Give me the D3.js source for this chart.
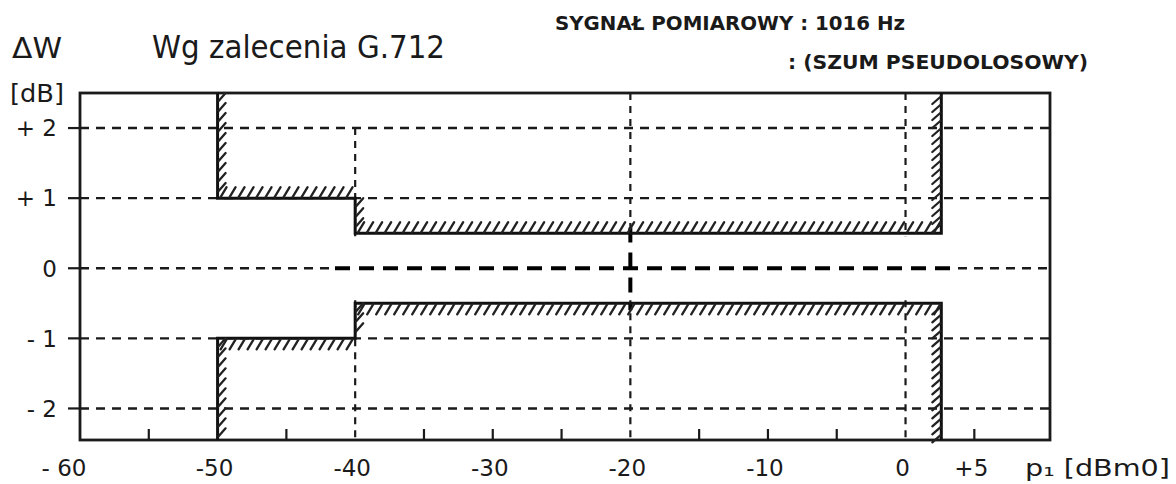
<!DOCTYPE html>
<html>
<head>
<meta charset="utf-8">
<script src="https://cdn.jsdelivr.net/npm/d3@7"></script>
<style>
  body { margin: 0; background: #fff; }
  svg { display: block; font-family: "DejaVu Sans", sans-serif; }
</style>
</head>
<body>
<svg id="viz" width="1176" height="484"></svg>
<script>
// tick values and labels
const xTicks = [-60, -50, -40, -30, -20, -10, 0, 5];
const xTickLabels = ['- 60', '-50', '-40', '-30', '-20', '-10', '0', '+5'];
const xMinorTicks = [-55, -45, -35, -30, -25, -15, -10, -5, 5];
const xGridLines = [-40, -20, 0];
const yTicks = [2, 1, 0, -1, -2];
const yTickLabels = ['+ 2', '+ 1', '0', '- 1', '- 2'];

// tolerance mask (G.712), [P1 dBm0, dW dB]
const upperMask = [[-50, 2.5], [-50, 1], [-40, 1], [-40, 0.5], [2.6, 0.5], [2.6, 2.5]];
const lowerMask = [[-50, -2.45], [-50, -1], [-40, -1], [-40, -0.5], [2.6, -0.5], [2.6, -2.45]];
// hatch side for each segment of the masks
const upperHatch = ['right', 'up', 'right', 'up', 'left'];
const lowerHatch = ['right', 'down', 'right', 'down', 'left'];

const ink = '#1a1a1a';
const svg = d3.select('#viz');

const x = d3.scaleLinear().domain([-60, 10.5]).range([80, 1050]);
const y = d3.scaleLinear().domain([-2.45, 2.5]).range([440, 93]);

const g = svg.append('g');

// band around zero that was pasted over in the original
const bandX0 = 335, bandX1 = 958;
const bandTop = y(0.5) + 3, bandBot = y(-0.5) - 3;

// horizontal dashed grid
yTicks.forEach(v => {
  const segs = v === 0 ? [[x.range()[0], bandX0], [bandX1, x.range()[1]]] : [[x.range()[0], x.range()[1]]];
  segs.forEach(s => {
    g.append('line').attr('x1', s[0]).attr('x2', s[1]).attr('y1', y(v)).attr('y2', y(v))
      .attr('stroke', ink).attr('stroke-width', 2.4).attr('stroke-dasharray', '9,7');
  });
});

// vertical dashed grid
xGridLines.forEach(v => {
  const top = v === -40 ? y(2) : y.range()[1];
  [[top, bandTop], [bandBot, y.range()[0]]].forEach(s => {
    g.append('line').attr('x1', x(v)).attr('x2', x(v)).attr('y1', s[0]).attr('y2', s[1])
      .attr('stroke', ink).attr('stroke-width', 2.2).attr('stroke-dasharray', '7,6');
  });
});

// bold overlay at zero and -20
g.append('line').attr('x1', bandX0).attr('x2', bandX1).attr('y1', y(0)).attr('y2', y(0))
  .attr('stroke', '#000').attr('stroke-width', 4).attr('stroke-dasharray', '15,9');
g.append('line').attr('x1', x(-20)).attr('x2', x(-20)).attr('y1', y(0.58)).attr('y2', y(-0.6))
  .attr('stroke', '#000').attr('stroke-width', 4).attr('stroke-dasharray', '15,10');

// frame
g.append('rect').attr('x', x.range()[0]).attr('y', y.range()[1])
  .attr('width', x.range()[1] - x.range()[0]).attr('height', y.range()[0] - y.range()[1])
  .attr('fill', 'none').attr('stroke', ink).attr('stroke-width', 2.8);

// y ticks + labels
yTicks.forEach((v, i) => {
  g.append('line').attr('x1', x.range()[0] - 12).attr('x2', x.range()[0]).attr('y1', y(v)).attr('y2', y(v))
    .attr('stroke', ink).attr('stroke-width', 2.2);
  g.append('text').attr('x', 57).attr('y', y(v)).attr('dy', '0.36em')
    .attr('text-anchor', 'end').attr('font-size', 23).attr('fill', ink).text(yTickLabels[i]);
});

// x minor ticks
xMinorTicks.forEach(v => {
  g.append('line').attr('x1', x(v)).attr('x2', x(v)).attr('y1', y.range()[0]).attr('y2', y.range()[0] - 11)
    .attr('stroke', ink).attr('stroke-width', 2.2);
});

// x labels
xTicks.forEach((v, i) => {
  g.append('text').attr('x', x(v) + (v === -60 ? -16 : -3)).attr('y', 476)
    .attr('text-anchor', 'middle').attr('font-size', 23).attr('fill', ink).text(xTickLabels[i]);
});

// mask lines and hatching
function drawMask(points, sides) {
  const line = d3.line().x(d => x(d[0])).y(d => y(d[1]));
  g.append('path').datum(points).attr('d', line).attr('fill', 'none')
    .attr('stroke', '#111').attr('stroke-width', 3);

  const hatch = [];
  for (let i = 0; i < points.length - 1; i++) {
    const x0 = x(points[i][0]), y0 = y(points[i][1]);
    const x1 = x(points[i + 1][0]), y1 = y(points[i + 1][1]);
    const side = sides[i];
    if (side === 'up' || side === 'down') {
      const a = Math.min(x0, x1), b = Math.max(x0, x1);
      for (let px = a + 3; px < b - 4; px += 9) {
        if (side === 'up') hatch.push([px, y0 - 1, px + 6, y0 - 11]);
        else hatch.push([px, y0 + 11, px + 6, y0 + 1]);
      }
    } else {
      const a = Math.min(y0, y1), b = Math.max(y0, y1);
      const step = side === 'left' ? 8 : 10;
      for (let py = a + 8; py < b; py += step) {
        if (side === 'right') hatch.push([x0 + 1, py, x0 + 8, py - 8]);
        else hatch.push([x0 - 9, py + 3, x0 - 1, py - 4]);
      }
    }
  }
  g.selectAll(null).data(hatch).enter().append('line')
    .attr('x1', d => d[0]).attr('y1', d => d[1]).attr('x2', d => d[2]).attr('y2', d => d[3])
    .attr('stroke', '#222').attr('stroke-width', 2.3).attr('stroke-linecap', 'round');
}
drawMask(upperMask, upperHatch);
drawMask(lowerMask, lowerHatch);

// titles and axis names
const txt = (tx, ty, s, size, opts = {}) => {
  const t = svg.append('text').attr('x', tx).attr('y', ty).attr('font-size', size).attr('fill', ink).text(s);
  if (opts.len) t.attr('textLength', opts.len).attr('lengthAdjust', 'spacingAndGlyphs');
  if (opts.weight) t.attr('font-weight', opts.weight);
  return t;
};
txt(12, 58, 'ΔW', 28, { len: 50 });
txt(10, 102, '[dB]', 25, { len: 54 });
txt(152, 58, 'Wg zalecenia  G.712', 32, { len: 293 });
txt(555, 30, 'SYGNAŁ POMIAROWY : 1016 Hz', 20, { len: 350, weight: 600 });
txt(788, 69, ': (SZUM PSEUDOLOSOWY)', 20, { len: 300, weight: 600 });
txt(1025, 476, 'p₁ [dBm0]', 23, { len: 145 });
</script>
</body>
</html>
